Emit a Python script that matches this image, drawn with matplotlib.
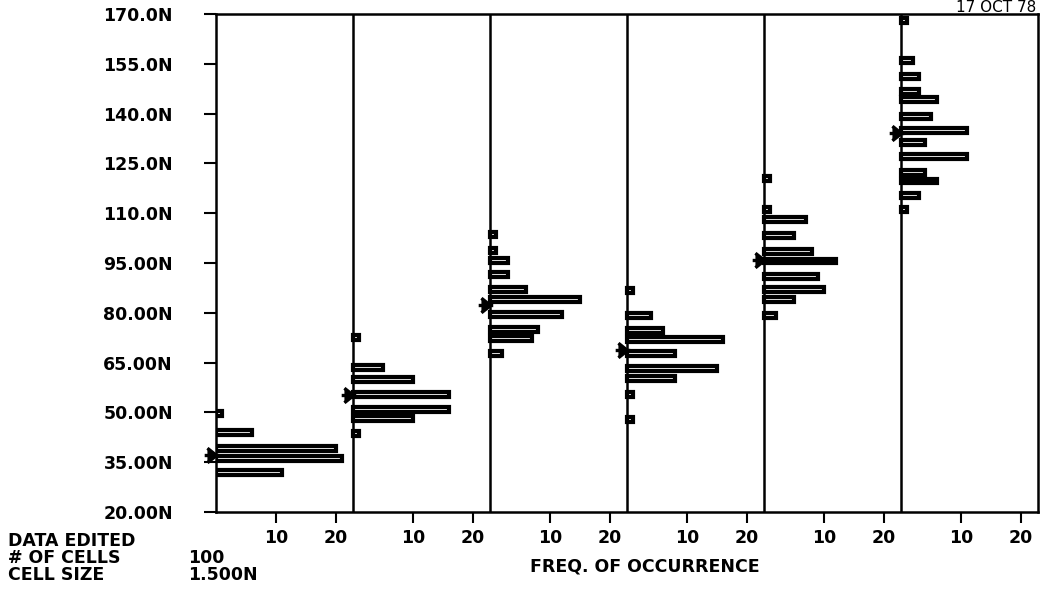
import matplotlib
matplotlib.use("Agg")
import matplotlib.pyplot as plt
from matplotlib.path import Path

# latitude of each occupied cell (N) and its frequency, one pair per panel
p1_lat = [49.8, 43.8, 39.0, 36.0, 32.0]
p1_cnt = [1, 6, 20, 21, 11]
p2_lat = [72.7, 63.4, 60.0, 55.5, 51.0, 48.3, 43.5]
p2_cnt = [1, 5, 10, 16, 16, 10, 1]
p3_lat = [103.7, 98.9, 95.9, 91.4, 86.9, 83.9, 79.6, 75.1, 72.4, 67.6]
p3_cnt = [1, 1, 3, 3, 6, 15, 12, 8, 7, 2]
p4_lat = [86.6, 79.3, 74.8, 72.1, 67.6, 63.1, 60.1, 55.5, 48.0]
p4_cnt = [1, 4, 6, 16, 8, 15, 8, 1, 1]
p5_lat = [120.5, 111.0, 108.0, 103.4, 98.6, 95.6, 91.0, 86.9, 83.9, 79.3]
p5_cnt = [1, 1, 7, 5, 8, 12, 9, 10, 5, 2]
p6_lat = [167.9, 156.1, 151.3, 146.8, 144.1, 139.0, 134.8, 131.4, 127.2,
          122.4, 119.7, 115.2, 111.0]
p6_cnt = [1, 2, 3, 3, 6, 5, 11, 4, 11, 4, 6, 3, 1]

means = [37.2, 55.2, 82.3, 68.8, 95.9, 134.2]

y_ticks = [170, 155, 140, 125, 110, 95, 80, 65, 50, 35, 20]
y_labels = ["170.0N", "155.0N", "140.0N", "125.0N", "110.0N", "95.00N",
            "80.00N", "65.00N", "50.00N", "35.00N", "20.00N"]
x_tick_vals = [10, 20]

panels = [(p1_lat, p1_cnt), (p2_lat, p2_cnt), (p3_lat, p3_cnt),
          (p4_lat, p4_cnt), (p5_lat, p5_cnt), (p6_lat, p6_cnt)]
W = 22.8          # width of one panel in counts
cell = 1.5        # cell size

plt.rcParams['font.family'] = 'DejaVu Sans'
plt.rcParams['font.weight'] = 'bold'

fig = plt.figure(figsize=(10.43, 6.0), dpi=100)
ax = fig.add_axes([216 / 1043, 88 / 600, 822 / 1043, 498 / 600])

# arrow-like mean marker sitting on the panel baseline
arrow = Path([(-1.0, 0.8), (0.0, 0.0), (-1.0, -0.8), (-1.3, 0.0), (0.3, 0.0)],
             [Path.MOVETO, Path.LINETO, Path.LINETO, Path.MOVETO, Path.LINETO])

for i, (lat, cnt) in enumerate(panels):
    off = i * W
    ax.barh(lat, cnt, height=cell, left=off, color='white',
            edgecolor='black', linewidth=3, zorder=3)
    if i > 0:
        ax.axvline(off, color='black', lw=1.8, zorder=4)
    ax.plot([off], [means[i]], marker=arrow, ms=17, color='black',
            mew=2.4, linestyle='none', zorder=5, clip_on=False)

ax.set_xlim(0, 6 * W)
ax.set_ylim(20, 170)

xt = [i * W + v for i in range(6) for v in x_tick_vals]
ax.set_xticks(xt)
ax.set_xticklabels([str(v) for i in range(6) for v in x_tick_vals])
ax.set_yticks(y_ticks)
ax.set_yticklabels(y_labels)
ax.tick_params(axis='y', length=9, width=1.5, pad=22, labelsize=12.5)
ax.tick_params(axis='x', length=8, width=1.5, pad=4, labelsize=12.5)
for s in ax.spines.values():
    s.set_linewidth(1.8)

def ftext(x, y, s, weight='bold', size=12.5, **kw):
    fig.text(x / 1043, 1 - y / 600, s, fontsize=size, fontweight=weight,
             va='center', **kw)

ftext(8, 541, "DATA EDITED")
ftext(8, 558, "# OF CELLS")
ftext(188, 558, "100")
ftext(8, 575, "CELL SIZE")
ftext(188, 575, "1.500N")
ftext(645, 566, "FREQ. OF OCCURRENCE", ha='center')
ftext(1036, 7, "17 OCT 78", weight='normal', size=11, ha='right')

fig.savefig("out.png", dpi=100)
